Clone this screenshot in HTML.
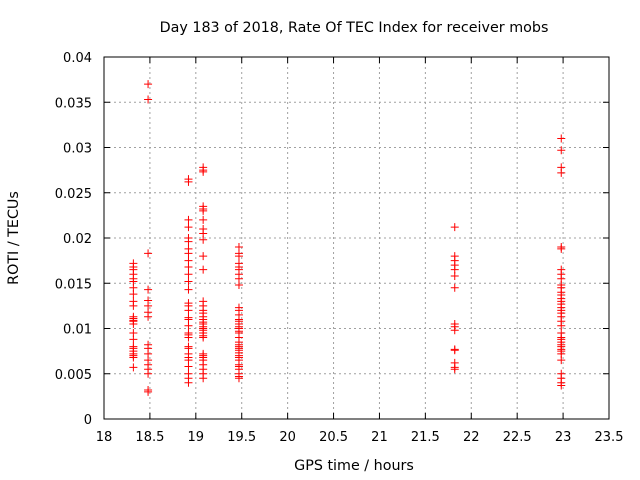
<!DOCTYPE html>
<html><head><meta charset="utf-8"><style>
body{margin:0;background:#fff}
svg{display:block;font-family:"DejaVu Sans","Liberation Sans",sans-serif}
</style></head><body>
<svg id="chart" width="640" height="480" xmlns="http://www.w3.org/2000/svg">
<text x="354" y="32" font-size="14.3" text-anchor="middle">Day 183 of 2018, Rate Of TEC Index for receiver mobs</text>
<text x="354" y="470" font-size="14.3" text-anchor="middle">GPS time / hours</text>
<text x="18" y="238" font-size="14.3" text-anchor="middle" transform="rotate(-90 18 238)">ROTI / TECUs</text>
<g id="grid"></g><g id="axes"></g><g id="marks"></g>
</svg>
<script>
const xTicks=[18,18.5,19,19.5,20,20.5,21,21.5,22,22.5,23,23.5];
const xTickLabels=["18","18.5","19","19.5","20","20.5","21","21.5","22","22.5","23","23.5"];
const yTicks=[0,0.005,0.01,0.015,0.02,0.025,0.03,0.035,0.04];
const yTickLabels=["0","0.005","0.01","0.015","0.02","0.025","0.03","0.035","0.04"];
const clusterTimes=[18.32,18.48,18.92,19.08,19.47,21.82,22.98];
const rotiA=[0.0172,0.0168,0.0165,0.016,0.0155,0.0152,0.0145,0.0138,0.013,0.0125,0.0113,0.0111,0.0109,0.0108,0.0105,0.0095,0.0088,0.008,0.0078,0.0075,0.0072,0.007,0.0068,0.0057];
const rotiB=[0.037,0.0353,0.0183,0.0143,0.0131,0.0125,0.0118,0.0113,0.0082,0.0078,0.0072,0.0065,0.006,0.0055,0.005,0.0032,0.003];
const rotiC=[0.0265,0.0262,0.022,0.0212,0.02,0.0196,0.0188,0.0183,0.0175,0.0168,0.016,0.0152,0.0143,0.0128,0.0125,0.012,0.0112,0.011,0.0103,0.0095,0.0093,0.009,0.008,0.0078,0.0072,0.0068,0.0065,0.0058,0.005,0.0045,0.004];
const rotiD=[0.0278,0.0275,0.0273,0.0235,0.0232,0.023,0.022,0.021,0.0205,0.0198,0.018,0.0165,0.013,0.0125,0.012,0.0117,0.0113,0.011,0.0107,0.0105,0.0102,0.01,0.0098,0.0095,0.0092,0.009,0.0072,0.007,0.0068,0.0065,0.006,0.0055,0.005,0.0045];
const rotiE=[0.019,0.0183,0.018,0.0172,0.0168,0.0165,0.016,0.0155,0.0148,0.0123,0.012,0.0115,0.011,0.0108,0.0105,0.0102,0.01,0.0097,0.0095,0.009,0.0085,0.0082,0.008,0.0078,0.0076,0.0073,0.007,0.0068,0.0065,0.006,0.0058,0.0055,0.005,0.0047,0.0045];
const rotiF=[0.0212,0.018,0.0175,0.017,0.0165,0.0158,0.0145,0.0105,0.0102,0.0098,0.0077,0.0076,0.0062,0.0057,0.0055];
const rotiG=[0.031,0.0297,0.0278,0.0272,0.019,0.0188,0.0165,0.016,0.0155,0.0148,0.0145,0.014,0.0137,0.0133,0.013,0.0127,0.0123,0.012,0.0117,0.0113,0.0108,0.0103,0.0095,0.009,0.0088,0.0085,0.0082,0.008,0.0077,0.0075,0.0072,0.0065,0.005,0.0045,0.004,0.0037];
const clusterValues=[rotiA,rotiB,rotiC,rotiD,rotiE,rotiF,rotiG];

const L=104,R=609,T=57,B=419;
const xs=v=>L+(v-18)/(23.5-18)*(R-L);
const ys=v=>B-(v-0)/(0.04-0)*(B-T);
const NS="http://www.w3.org/2000/svg";
function mk(tag,parent){const e=document.createElementNS(NS,tag);parent.appendChild(e);return e;}
const grid=document.getElementById('grid'),axes=document.getElementById('axes'),marks=document.getElementById('marks');
xTicks.forEach((t,i)=>{
  const x=xs(t);
  if(i>0&&i<xTicks.length-1){const g=mk('line',grid);
    
    
    g.setAttribute('x1',x);g.setAttribute('x2',x);g.setAttribute('y1',T);g.setAttribute('y2',B);
    g.setAttribute('stroke','#a0a0a0');g.setAttribute('stroke-dasharray','2,3');}
  [[B,B-6],[T,T+6]].forEach(p=>{const k=mk('line',axes);
    
    
    k.setAttribute('x1',x);k.setAttribute('x2',x);k.setAttribute('y1',p[0]);k.setAttribute('y2',p[1]);k.setAttribute('stroke','#000');});
  const tx=mk('text',axes);
  
  
  tx.setAttribute('x',x);tx.setAttribute('y',B+22);tx.setAttribute('font-size','13');tx.setAttribute('text-anchor','middle');tx.textContent=xTickLabels[i];
});
yTicks.forEach((t,i)=>{
  const y=ys(t);
  if(i>0&&i<yTicks.length-1){const g=mk('line',grid);
    
    
    g.setAttribute('x1',L);g.setAttribute('x2',R);g.setAttribute('y1',y);g.setAttribute('y2',y);
    g.setAttribute('stroke','#a0a0a0');g.setAttribute('stroke-dasharray','2,3');}
  [[L,L+6],[R,R-6]].forEach(p=>{const k=mk('line',axes);
    
    
    k.setAttribute('x1',p[0]);k.setAttribute('x2',p[1]);k.setAttribute('y1',y);k.setAttribute('y2',y);k.setAttribute('stroke','#000');});
  const tx=mk('text',axes);
  
  
  tx.setAttribute('x',L-12);tx.setAttribute('y',y+5);tx.setAttribute('font-size','13');tx.setAttribute('text-anchor','end');tx.textContent=yTickLabels[i];
});
const fr=mk('rect',axes);


fr.setAttribute('x',L);fr.setAttribute('y',T);fr.setAttribute('width',R-L);fr.setAttribute('height',B-T);fr.setAttribute('fill','none');fr.setAttribute('stroke','#000');
clusterTimes.forEach((t,ci)=>{
  clusterValues[ci].forEach(v=>{
    const x=xs(t),y=ys(v);
    const p=mk('path',marks);
    
    
    p.setAttribute('d',`M${x-4} ${y}H${x+4}M${x} ${y-4}V${y+4}`);
    p.setAttribute('stroke','#ff0000');p.setAttribute('stroke-width','1');
  });
});
</script>
</body></html>
